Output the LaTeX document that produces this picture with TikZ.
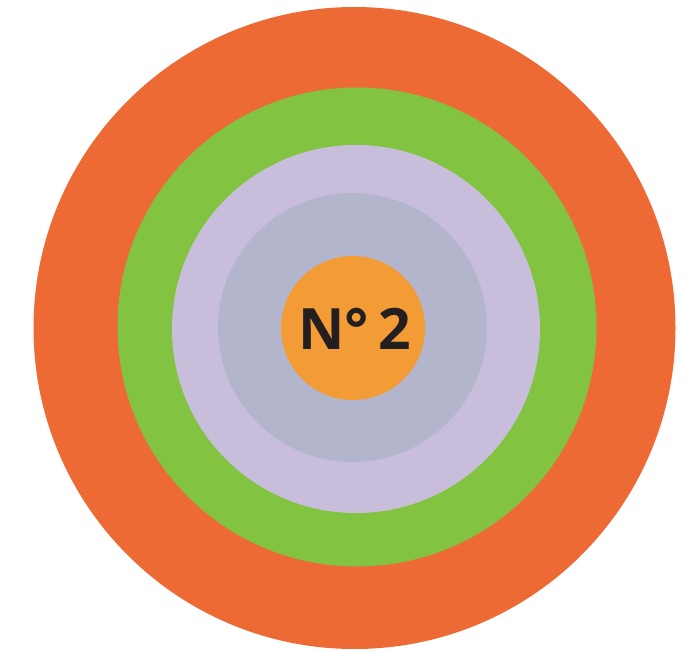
\documentclass[tikz,border=0pt]{standalone}
\usepackage{fontspec}
\setmainfont{Open Sans}
\definecolor{outerorange}{HTML}{EE6A35}
\definecolor{ringgreen}{HTML}{82C341}
\definecolor{lilac}{HTML}{C8BEDC}
\definecolor{greyblue}{HTML}{B3B5CD}
\definecolor{coreorange}{HTML}{F39B35}
\definecolor{textdark}{HTML}{231F20}
\tikzset{disc/.style={draw=none}}
\begin{document}
\begin{tikzpicture}[x=1pt,y=-1pt]
\useasboundingbox (0,0) rectangle (700,653);
\fill[outerorange,disc] (354.5,328) circle (321);
\fill[ringgreen,disc] (357,327) circle (239.5);
\fill[lilac,disc] (356,329) circle (184);
\fill[greyblue,disc] (352.5,327.5) circle (134.5);
\node[circle,fill=coreorange,minimum size=144pt,inner sep=0pt] (core) at (353,328) {};
\node[text=textdark,font=\fontsize{57}{57}\selectfont\bfseries,inner sep=0pt] (label) at (355,328.5) {N°\,2};
\end{tikzpicture}
\end{document}
